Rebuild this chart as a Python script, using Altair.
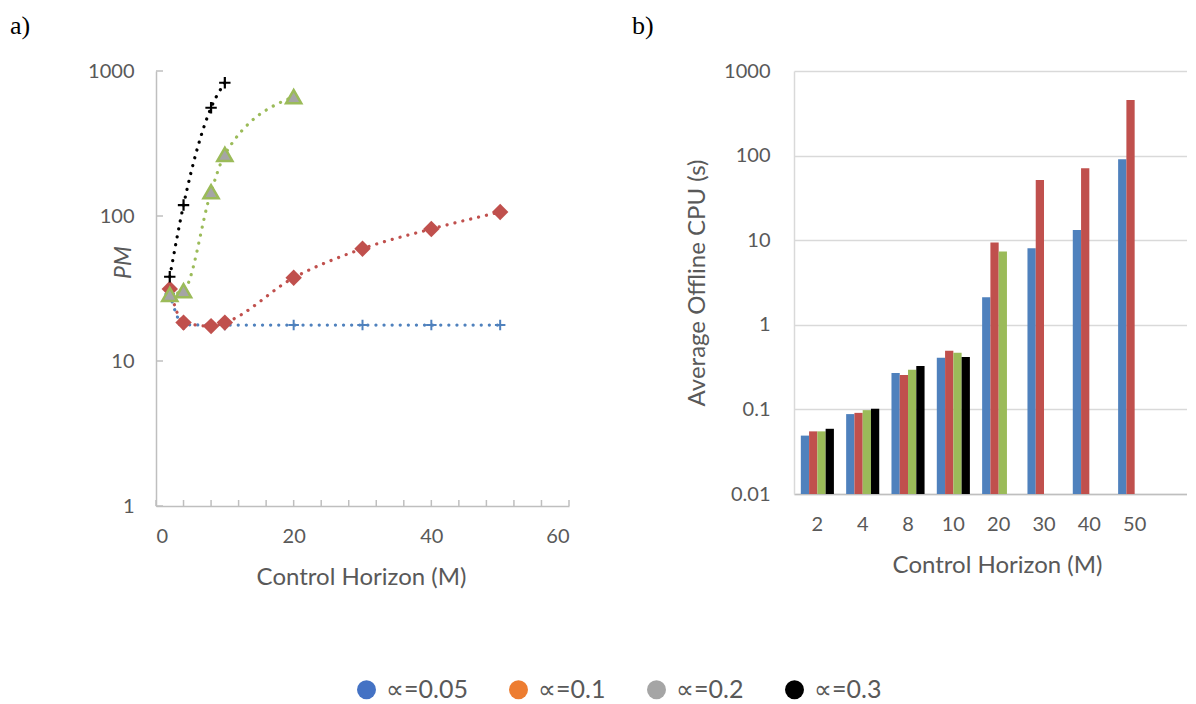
import altair as alt
import pandas as pd

# ---------------- data ----------------
series = ["∝=0.05", "∝=0.1", "∝=0.2", "∝=0.3"]
series_colors = ["#4F81BD", "#C0504D", "#9BBB59", "#000000"]
legend_colors = ["#4472C4", "#ED7D31", "#A5A5A5", "#000000"]
panel_labels = ["a)", "b)"]

# panel a: PM vs control horizon
a_m_005 = [2, 4, 8, 10, 20, 30, 40, 50]
a_pm_005 = [29, 17.8, 17.7, 17.7, 17.7, 17.7, 17.7, 17.7]
a_m_01 = [2, 4, 8, 10, 20, 30, 40, 50]
a_pm_01 = [31.4, 18.4, 17.4, 18.4, 37.5, 59.5, 81.4, 106.6]
a_m_02 = [2, 4, 8, 10, 20]
a_pm_02 = [28.8, 30.5, 147, 266, 665]
a_m_03 = [2, 4, 8, 10]
a_pm_03 = [38.1, 119, 558, 830]
a_x_labels = [0, 20, 40, 60]
a_x_ticks = list(range(0, 61, 4))
a_y_ticks = [1, 10, 100, 1000]

# panel b: average offline CPU
b_horizons = ["2", "4", "8", "10", "20", "30", "40", "50"]
b_cpu_005 = [0.049, 0.088, 0.269, 0.408, 2.12, 8.04, 13.2, 90.4]
b_cpu_01 = [0.055, 0.091, 0.255, 0.493, 9.37, 51.5, 70.8, 453]
b_cpu_02 = [0.055, 0.098, 0.294, 0.467, 7.34]
b_cpu_03 = [0.059, 0.102, 0.325, 0.415]
b_y_ticks = [0.01, 0.1, 1, 10, 100, 1000]

# ---------------- tables ----------------
rows_a = []
for s, ms, vs in zip(series, [a_m_005, a_m_01, a_m_02, a_m_03],
                     [a_pm_005, a_pm_01, a_pm_02, a_pm_03]):
    for m, v in zip(ms, vs):
        rows_a.append({"series": s, "M": m, "PM": v})
df_a = pd.DataFrame(rows_a)

rows_b = []
for s, vs in zip(series, [b_cpu_005, b_cpu_01, b_cpu_02, b_cpu_03]):
    for h, v in zip(b_horizons, vs):
        rows_b.append({"series": s, "horizon": h, "cpu": v})
df_b = pd.DataFrame(rows_b)

TXT = "#595959"
AXC = "#BFBFBF"
FONT = "Lato"
PLUS = "M-1,0L1,0M0,-1L0,1"

# ---------------- panel a ----------------
WA, HA = 413, 435
xs_a = alt.Scale(domain=[0, 60])
ys_a = alt.Scale(type="log", domain=[1, 1000])
x_a = alt.X("M:Q", scale=xs_a, axis=alt.Axis(
    values=a_x_labels, title="Control Horizon (M)", ticks=False, grid=False,
    domainColor=AXC, domainWidth=1.5, labelPadding=20, labelFontSize=20,
    labelColor=TXT, labelFont=FONT, titleFont=FONT, titleFontSize=24,
    titleColor=TXT, titleFontWeight="normal", titleX=205, titleY=71,
    titleBaseline="middle"))
y_a = alt.Y("PM:Q", scale=ys_a, axis=alt.Axis(
    values=a_y_ticks, format="~g", title="PM", ticks=False, grid=False,
    domainColor=AXC, domainWidth=1.5, labelPadding=22, labelFontSize=20,
    labelColor=TXT, labelFont=FONT, titleFont=FONT, titleFontSize=23,
    titleColor=TXT, titleFontWeight="normal", titleFontStyle="italic",
    titleX=-26, titleY=191, titleBaseline="alphabetic"))

base_a = alt.Chart(df_a)
lines = base_a.mark_line(strokeDash=[0.1, 8], strokeCap="round", strokeWidth=3.2,
                         interpolate="monotone").encode(
    x=x_a, y=y_a,
    color=alt.Color("series:N", scale=alt.Scale(domain=series, range=series_colors), legend=None),
    order=alt.Order("M:Q"))

def sel(s):
    return base_a.transform_filter(alt.datum.series == s)

m_blue = sel(series[0]).mark_point(shape=PLUS, filled=False, size=110, strokeWidth=2,
                                   color=series_colors[0], opacity=1).encode(x="M:Q", y="PM:Q")
m_red = sel(series[1]).mark_point(shape="diamond", filled=True, size=270,
                                  color=series_colors[1], opacity=1).encode(x="M:Q", y="PM:Q")
m_green = sel(series[2]).mark_point(shape="triangle-up", filled=True, size=230, fill="#A5A5A5",
                                    stroke=series_colors[2], strokeWidth=2.5, opacity=1).encode(x="M:Q", y="PM:Q")
m_black = sel(series[3]).mark_point(shape=PLUS, filled=False, size=130, strokeWidth=2.2,
                                    color=series_colors[3], opacity=1).encode(x="M:Q", y="PM:Q")

ytick_a = alt.Chart(pd.DataFrame({"PM": a_y_ticks})).mark_rule(color=AXC, strokeWidth=1.5).encode(
    y="PM:Q", x=alt.value(0), x2=alt.value(7))
xtick_a = alt.Chart(pd.DataFrame({"M": a_x_ticks})).mark_rule(color=AXC, strokeWidth=1.5).encode(
    x="M:Q", y=alt.value(HA), y2=alt.value(HA - 6))

lab_a = alt.Chart(pd.DataFrame({"t": [panel_labels[0]]})).mark_text(
    align="left", baseline="top", font="Liberation Serif", fontSize=26, color="black").encode(
    text="t:N", x=alt.value(-146), y=alt.value(-58))

panel_a = alt.layer(lines, ytick_a, xtick_a, m_blue, m_red, m_green, m_black, lab_a
                    ).properties(width=WA, height=HA)

# ---------------- panel b ----------------
WB, HB = 393, 423
x_b = alt.X("horizon:N", sort=b_horizons,
            scale=alt.Scale(domain=b_horizons, paddingInner=0.27, paddingOuter=0.47, align=0.16),
            axis=alt.Axis(labelAngle=0, ticks=False, domainColor=AXC, domainWidth=1.5,
                          labelPadding=20, labelFontSize=20, labelColor=TXT, labelFont=FONT,
                          title="Control Horizon (M)", titleFont=FONT, titleFontSize=24,
                          titleColor=TXT, titleFontWeight="normal", titleX=203, titleY=71,
                          titleBaseline="middle"))
y_b = alt.Y("cpu:Q", stack=None, scale=alt.Scale(type="log", domain=[0.01, 1000]),
            axis=alt.Axis(values=b_y_ticks, format="~g", ticks=False, grid=True,
                          gridColor="#D9D9D9", gridWidth=1.5, domainColor="#D9D9D9",
                          domainWidth=1.5, labelPadding=24, labelFontSize=20,
                          labelColor=TXT, labelFont=FONT,
                          title="Average Offline CPU (s)", titleFont=FONT, titleFontSize=24,
                          titleColor=TXT, titleFontWeight="normal", titleX=-97,
                          titleY=HB / 2, titleBaseline="middle"))
bars = alt.Chart(df_b).mark_bar().encode(
    x=x_b,
    xOffset=alt.XOffset("series:N", scale=alt.Scale(domain=series, paddingInner=0, paddingOuter=0)),
    y=y_b,
    color=alt.Color("series:N", scale=alt.Scale(domain=series, range=series_colors), legend=None))

lab_b = alt.Chart(pd.DataFrame({"t": [panel_labels[1]]})).mark_text(
    align="left", baseline="top", font="Liberation Serif", fontSize=26, color="black").encode(
    text="t:N", x=alt.value(-162), y=alt.value(-58))

panel_b = alt.layer(bars, lab_b).properties(width=WB, height=HB)

# ---------------- legend ----------------
legend_chart = alt.Chart(pd.DataFrame({"label": series})).mark_point(
    filled=True, opacity=0, shape="circle").encode(
    fill=alt.Fill("label:N", scale=alt.Scale(domain=series, range=legend_colors),
                  legend=alt.Legend(orient="none", legendX=198, legendY=75,
                                    direction="horizontal", title=None,
                                    symbolType="circle", symbolSize=360,
                                    symbolStrokeWidth=0, symbolOpacity=1,
                                    labelFontSize=25, labelFont=FONT, labelColor=TXT,
                                    labelOffset=7, columnPadding=38))
).properties(width=1, height=1)

top = alt.hconcat(panel_a, panel_b, spacing=62)
chart = alt.vconcat(top, legend_chart, spacing=10).resolve_scale(
    fill="independent").resolve_legend(fill="independent").properties(
    padding={"left": 2, "top": 5, "right": 0, "bottom": 0}
).configure_view(stroke=None)

chart.save("out.html", embed_options={"renderer": "svg", "actions": False})
